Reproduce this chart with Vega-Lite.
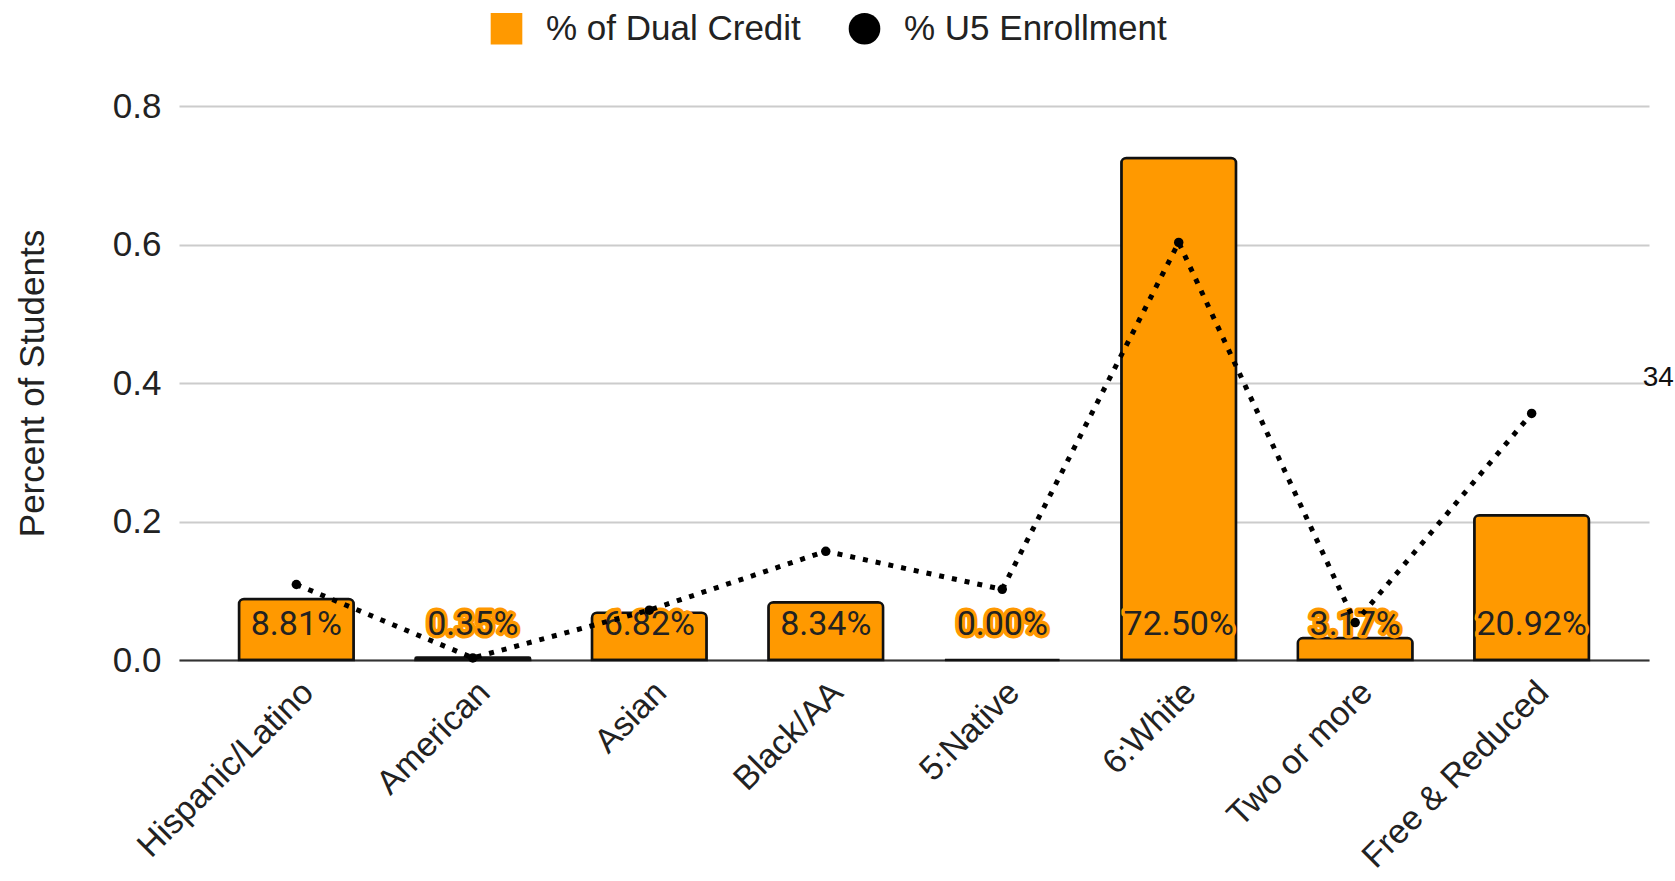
{
  "$schema": "https://vega.github.io/schema/vega-lite/v6.json",
  "autosize": "none",
  "width": 1470,
  "height": 554,
  "padding": {"left": 179, "top": 106, "right": 26, "bottom": 221},
  "background": "white",
  "config": {
    "view": {"stroke": null},
    "font": "Liberation Sans"
  },
  "data": {
    "values": [
      {"category": "Hispanic/Latino", "dual": 0.0881, "u5": 0.109, "label": "8.81%"},
      {"category": "American", "dual": 0.0035, "u5": 0.003, "label": "0.35%"},
      {"category": "Asian", "dual": 0.0682, "u5": 0.072, "label": "6.82%"},
      {"category": "Black/AA", "dual": 0.0834, "u5": 0.157, "label": "8.34%"},
      {"category": "5:Native", "dual": 0.0, "u5": 0.102, "label": "0.00%"},
      {"category": "6:White", "dual": 0.725, "u5": 0.603, "label": "72.50%"},
      {"category": "Two or more", "dual": 0.0317, "u5": 0.054, "label": "3.17%"},
      {"category": "Free & Reduced", "dual": 0.2092, "u5": 0.356, "label": "20.92%"}
    ]
  },
  "encoding": {
    "x": {
      "field": "category",
      "type": "nominal",
      "sort": null,
      "scale": {"paddingInner": 0.35, "paddingOuter": 0.34},
      "axis": {
        "title": null,
        "labelAngle": -45,
        "labelAlign": "right",
        "labelBaseline": "top",
        "labelFontSize": 34,
        "labelColor": "#222",
        "labelPadding": 15,
        "labelLimit": 600,
        "ticks": false,
        "domain": true,
        "domainColor": "#333",
        "domainWidth": 2
      }
    }
  },
  "layer": [
    {
      "mark": {"type": "bar", "stroke": "#111", "strokeWidth": 2.5, "cornerRadiusTopLeft": 5, "cornerRadiusTopRight": 5},
      "encoding": {
        "y": {
          "field": "dual",
          "type": "quantitative",
          "scale": {"domain": [0, 0.8], "nice": false},
          "axis": {
            "title": "Percent of Students",
            "titleFontSize": 35,
            "titleFontWeight": "normal",
            "titleColor": "#222",
            "titlePadding": 62,
            "format": ".1f",
            "values": [0, 0.2, 0.4, 0.6, 0.8],
            "labelFontSize": 35,
            "labelColor": "#222",
            "labelPadding": 18,
            "ticks": false,
            "domain": false,
            "gridColor": "#cccccc",
            "gridWidth": 2
          }
        },
        "color": {
          "datum": "% of Dual Credit",
          "type": "nominal",
          "scale": {"domain": ["% of Dual Credit", "% U5 Enrollment"], "range": ["#ff9900", "#000000"]},
          "legend": {
            "title": null,
            "orient": "none",
            "direction": "horizontal",
            "legendX": 310,
            "legendY": -95,
            "labelFontSize": 35,
            "labelColor": "#222",
            "labelLimit": 600,
            "labelOffset": 22,
            "columnPadding": 46,
            "symbolSize": 1000,
            "symbolStrokeWidth": 0
          }
        }
      }
    },
    {
      "mark": {"type": "text", "font": "Roboto", "fontSize": 34, "dy": -35, "baseline": "middle", "stroke": "#ff9900", "strokeWidth": 7, "strokeJoin": "round", "fill": "#ff9900"},
      "encoding": {
        "y": {"datum": 0, "type": "quantitative"},
        "text": {"field": "label"}
      }
    },
    {
      "mark": {"type": "text", "font": "Roboto", "fontSize": 34, "dy": -35, "baseline": "middle", "fill": "#222"},
      "encoding": {
        "y": {"datum": 0, "type": "quantitative"},
        "text": {"field": "label"}
      }
    },
    {
      "mark": {"type": "line", "color": "#000", "strokeWidth": 5, "strokeDash": [5, 8], "strokeCap": "butt"},
      "encoding": {
        "y": {"field": "u5", "type": "quantitative"}
      }
    },
    {
      "mark": {"type": "point", "filled": true, "size": 90, "opacity": 1},
      "encoding": {
        "y": {"field": "u5", "type": "quantitative"},
        "color": {"datum": "% U5 Enrollment", "type": "nominal"},
        "shape": {
          "datum": "% U5 Enrollment",
          "type": "nominal",
          "scale": {"domain": ["% of Dual Credit", "% U5 Enrollment"], "range": ["square", "circle"]},
          "legend": {
            "title": null,
            "orient": "none",
            "direction": "horizontal",
            "legendX": 310,
            "legendY": -95,
            "labelFontSize": 35,
            "labelColor": "#222",
            "labelLimit": 600,
            "labelOffset": 22,
            "columnPadding": 46,
            "symbolSize": 1000,
            "symbolStrokeWidth": 0
          }
        }
      }
    },
    {
      "data": {"values": [{"category": "Free & Reduced", "value": 0.407, "note": "34"}]},
      "mark": {"type": "text", "align": "left", "baseline": "middle", "dx": 111, "fontSize": 28, "fill": "#111", "font": "Liberation Sans"},
      "encoding": {
        "y": {"field": "value", "type": "quantitative"},
        "text": {"field": "note"}
      }
    }
  ]
}
